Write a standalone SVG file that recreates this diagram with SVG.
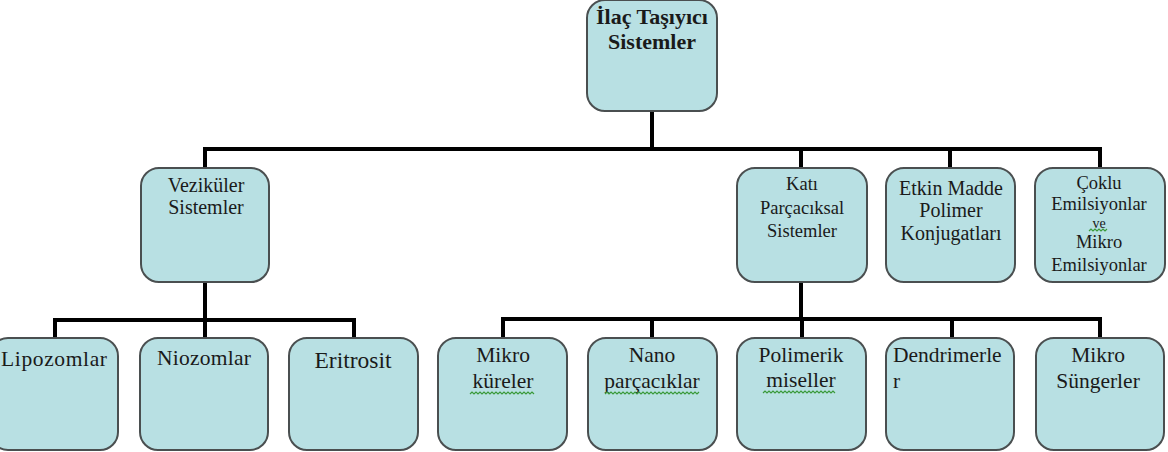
<svg xmlns="http://www.w3.org/2000/svg" width="1168" height="452" viewBox="0 0 1168 452">
<style>
.box{fill:#b8e0e3;stroke:#4a4f50;stroke-width:2}
.conn{stroke:#000;stroke-width:4;fill:none;stroke-linecap:square}
text{font-family:"Liberation Serif","Times New Roman",serif;fill:#1a1a1a;text-anchor:middle}
.t0{font-size:22px;font-weight:bold}
.t1{font-size:20px}
.t1s{font-size:18.5px}
.t2{font-size:21.5px}
.sq{stroke:#3a9a3a;stroke-width:1.2;fill:none}
</style>
<rect width="1168" height="452" fill="#fff"/>
<g id="connectors">
<path class="conn" d="M652,111V149M205,149H1100M205,149V168M801,149V168M950,149V168M1100,149V168"/>
<path class="conn" d="M205,282V320M55,320H354M55,320V338M205,320V338M354,320V338"/>
<path class="conn" d="M801,282V319M503,319H1100M503,319V338M652,319V338M802,319V338M952,319V338M1100,319V338"/>
</g>
<g id="n-root"><rect class="box" x="587" y="0" width="130" height="111" rx="18"/>
<text class="t0" x="652" y="24">İlaç Taşıyıcı</text><text class="t0" x="652" y="49">Sistemler</text></g>
<g id="n-vez"><rect class="box" x="141" y="168" width="128" height="114" rx="18"/>
<text class="t1" x="206" y="192">Veziküler</text><text class="t1" x="206" y="214">Sistemler</text></g>
<g id="n-kati"><rect class="box" x="737" y="168" width="130" height="114" rx="18"/>
<text class="t1s" x="802" y="190">Katı</text><text class="t1s" x="802" y="214">Parçacıksal</text><text class="t1s" x="802" y="237">Sistemler</text></g>
<g id="n-etkin"><rect class="box" x="886" y="168" width="129" height="114" rx="18"/>
<text class="t1" x="951" y="195">Etkin Madde</text><text class="t1" x="951" y="217">Polimer</text><text class="t1" x="951" y="240">Konjugatları</text></g>
<g id="n-coklu"><rect class="box" x="1035" y="168" width="130" height="114" rx="18"/>
<text class="t1s" x="1099" y="189">Çoklu</text><text class="t1s" x="1099" y="210">Emilsiyonlar</text><text x="1099" y="228" style="font-size:14px">ve</text><path class="sq" d="M1089,231l2,-2l2,2l2,-2l2,2l2,-2l2,2l2,-2l2,2l2,-2"/><text class="t1s" x="1099" y="248">Mikro</text><text class="t1s" x="1099" y="271">Emilsiyonlar</text></g>
<g id="n-lipo"><rect class="box" x="-10" y="338" width="128" height="112" rx="18"/>
<text class="t2" x="54" y="366" textLength="106" lengthAdjust="spacing">Lipozomlar</text></g>
<g id="n-nio"><rect class="box" x="140" y="338" width="128" height="112" rx="18"/>
<text class="t2" x="204" y="365" textLength="94" lengthAdjust="spacing">Niozomlar</text></g>
<g id="n-eri"><rect class="box" x="289" y="338" width="129" height="112" rx="18"/>
<text x="353" y="368" style="font-size:23.5px">Eritrosit</text></g>
<g id="n-mikro"><rect class="box" x="438" y="338" width="129" height="112" rx="18"/>
<text class="t2" x="503" y="362">Mikro</text><text class="t2" x="503" y="388">küreler</text><path class="sq" d="M470,394l2,-2l2,2l2,-2l2,2l2,-2l2,2l2,-2l2,2l2,-2l2,2l2,-2l2,2l2,-2l2,2l2,-2l2,2l2,-2l2,2l2,-2l2,2l2,-2l2,2l2,-2l2,2l2,-2l2,2l2,-2l2,2l2,-2l2,2l2,-2l2,2"/></g>
<g id="n-nano"><rect class="box" x="588" y="338" width="129" height="112" rx="18"/>
<text class="t2" x="652" y="362">Nano</text><text class="t2" x="652" y="388">parçacıklar</text><path class="sq" d="M605,394l2,-2l2,2l2,-2l2,2l2,-2l2,2l2,-2l2,2l2,-2l2,2l2,-2l2,2l2,-2l2,2l2,-2l2,2l2,-2l2,2l2,-2l2,2l2,-2l2,2l2,-2l2,2l2,-2l2,2l2,-2l2,2l2,-2l2,2l2,-2l2,2l2,-2l2,2l2,-2l2,2l2,-2l2,2l2,-2l2,2l2,-2l2,2l2,-2l2,2l2,-2l2,2l2,-2"/></g>
<g id="n-polim"><rect class="box" x="737" y="338" width="129" height="112" rx="18"/>
<text class="t2" x="801" y="362">Polimerik</text><text class="t2" x="801" y="387">miseller</text><path class="sq" d="M763,393l2,-2l2,2l2,-2l2,2l2,-2l2,2l2,-2l2,2l2,-2l2,2l2,-2l2,2l2,-2l2,2l2,-2l2,2l2,-2l2,2l2,-2l2,2l2,-2l2,2l2,-2l2,2l2,-2l2,2l2,-2l2,2l2,-2l2,2l2,-2l2,2l2,-2l2,2l2,-2l2,2"/></g>
<g id="n-dend"><rect class="box" x="886" y="338" width="128" height="112" rx="18"/>
<text class="t2" x="893" y="362" style="text-anchor:start">Dendrimerle</text><text class="t2" x="893" y="388" style="text-anchor:start">r</text></g>
<g id="n-sung"><rect class="box" x="1036" y="338" width="128" height="112" rx="18"/>
<text class="t2" x="1098" y="362">Mikro</text><text class="t2" x="1098" y="388">Süngerler</text></g>
</svg>
